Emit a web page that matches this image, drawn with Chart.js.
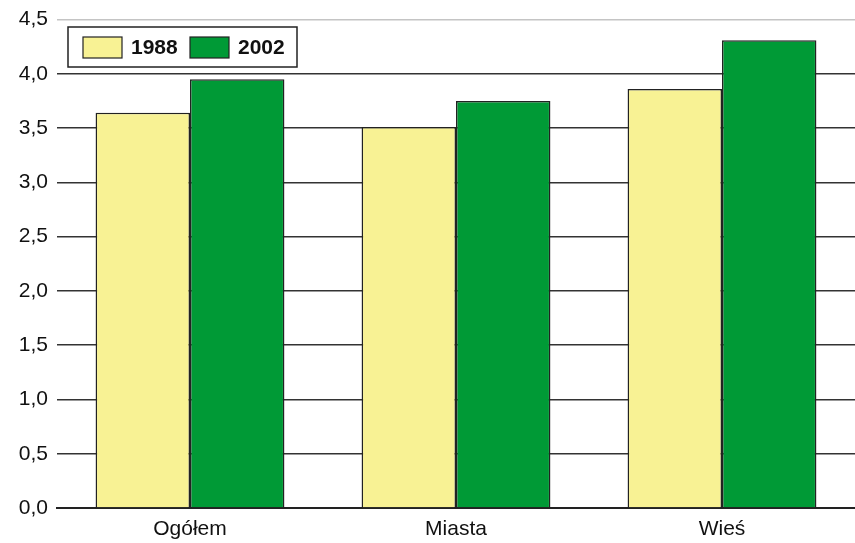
<!DOCTYPE html>
<html>
<head>
<meta charset="utf-8">
<script src="https://cdn.jsdelivr.net/npm/chart.js@4/dist/chart.umd.min.js"></script>
<style>
  html, body { margin: 0; padding: 0; background: #fff; }
  #wrap { width: 855px; height: 543px; }
</style>
</head>
<body>
<div id="wrap"><canvas id="c"></canvas></div>
<script>
const categories = ['Ogółem', 'Miasta', 'Wieś'];
const values1988 = [3.64, 3.51, 3.86];
const values2002 = [3.95, 3.75, 4.31];
const seriesLabels = ['1988', '2002'];
const yTicks = [0, 0.5, 1, 1.5, 2, 2.5, 3, 3.5, 4, 4.5];

const FONT = "'Liberation Sans', Arial, sans-serif";
const colors = ['#f8f294', '#009a36'];

// legend box drawn inside the plot, top-left, like the original
const boxLegend = {
  id: 'boxLegend',
  afterDraw(chart) {
    const ctx = chart.ctx;
    const x0 = 68, y0 = 27, w = 229, h = 40;
    ctx.save();
    ctx.fillStyle = '#fff';
    ctx.fillRect(x0, y0, w, h);
    ctx.strokeStyle = '#222';
    ctx.lineWidth = 1.5;
    ctx.strokeRect(x0, y0, w, h);
    ctx.font = 'bold 21px ' + FONT;
    ctx.textBaseline = 'middle';
    let x = x0 + 15;
    chart.data.datasets.forEach(ds => {
      ctx.fillStyle = ds.backgroundColor;
      ctx.fillRect(x, y0 + 10, 39, 21);
      ctx.strokeStyle = '#222';
      ctx.lineWidth = 1.2;
      ctx.strokeRect(x, y0 + 10, 39, 21);
      ctx.fillStyle = '#111';
      ctx.fillText(ds.label, x + 48, y0 + 21);
      x += 107;
    });
    ctx.restore();
  }
};

new Chart(document.getElementById('c'), {
  type: 'bar',
  data: {
    labels: categories,
    datasets: [
      { label: seriesLabels[0], data: values1988, backgroundColor: colors[0] },
      { label: seriesLabels[1], data: values2002, backgroundColor: colors[1] }
    ]
  },
  options: {
    responsive: true,
    maintainAspectRatio: false,
    animation: false,
    datasets: {
      bar: {
        borderColor: '#222',
        borderWidth: 1.5,
        categoryPercentage: 0.71,
        barPercentage: 1
      }
    },
    layout: { padding: { top: 6, right: 0, left: 0, bottom: 0 } },
    plugins: {
      legend: { display: false },
      tooltip: { enabled: false }
    },
    scales: {
      x: {
        afterFit: axis => { axis.height = 35; },
        grid: { display: false, drawTicks: false },
        border: { display: true, color: '#222', width: 2 },
        ticks: { color: '#111', font: { family: FONT, size: 21 }, padding: 9 }
      },
      y: {
        min: 0,
        max: 4.5,
        afterFit: axis => { axis.width = 57; },
        afterBuildTicks: axis => { axis.ticks = yTicks.map(v => ({ value: v })); },
        grid: {
          drawTicks: false,
          color: c => (c.tick && c.tick.value === 4.5) ? '#c4c4c4' : '#333',
          lineWidth: 1.5
        },
        border: { display: false },
        ticks: {
          color: '#111',
          padding: 9,
          font: { family: FONT, size: 21, lineHeight: 1.0 },
          callback: v => v.toFixed(1).replace('.', ',')
        }
      }
    }
  },
  plugins: [boxLegend]
});
</script>
</body>
</html>
